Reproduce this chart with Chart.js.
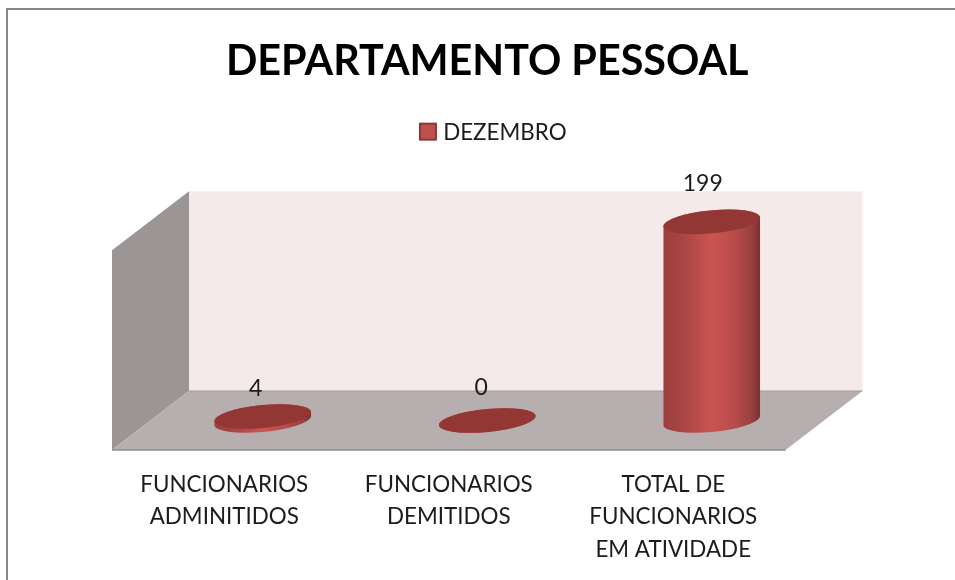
<!DOCTYPE html>
<html>
<head>
<meta charset="utf-8">
<style>
  html, body { margin: 0; padding: 0; background: #fff; }
  canvas { display: block; filter: blur(0.4px); }
</style>
<script src="https://cdn.jsdelivr.net/npm/chart.js@4"></script>
</head>
<body>
<canvas id="chart" width="955" height="580"></canvas>
<script>
const chartTitle = 'DEPARTAMENTO PESSOAL';
const seriesName = 'DEZEMBRO';
const categories = [
  ['FUNCIONARIOS', 'ADMINITIDOS'],
  ['FUNCIONARIOS', 'DEMITIDOS'],
  ['TOTAL DE', 'FUNCIONARIOS', 'EM ATIVIDADE']
];
const values = [4, 0, 199];

// depth of the fake 3d box, half goes behind and half in front of the scale
const depthX = 38.5;
const depthY = 29.5;
const tilt = -5.5 * Math.PI / 180;
const labelFont = '23px Lato';
const legendShift = 4;

function capPath(ctx, x, y, a, b) {
  ctx.beginPath();
  ctx.ellipse(x, y, a, b, tilt, 0, Math.PI * 2);
}

function drawCylinder(ctx, bar) {
  const a = bar.width / 2;
  const b = 11.5;
  const t0 = Math.atan(b * Math.tan(-tilt) / a);
  const grad = ctx.createLinearGradient(bar.x - a, 0, bar.x + a, 0);
  grad.addColorStop(0, '#9a3e3c');
  grad.addColorStop(0.25, '#ad4845');
  grad.addColorStop(0.5, '#cb5452');
  grad.addColorStop(0.75, '#b54c49');
  grad.addColorStop(0.92, '#95403d');
  grad.addColorStop(1, '#7a2f2d');
  ctx.beginPath();
  ctx.ellipse(bar.x, bar.base, a, b, tilt, t0, t0 + Math.PI);
  ctx.ellipse(bar.x, bar.y, a, b, tilt, t0 + Math.PI, t0 + Math.PI * 2);
  ctx.closePath();
  ctx.fillStyle = grad;
  ctx.fill();
  capPath(ctx, bar.x, bar.y, a, b);
  ctx.fillStyle = '#933735';
  ctx.fill();
}

const boxPlugin = {
  id: 'box3d',
  afterLayout(chart) {
    // legend sits right under the title, the wall starts much lower
    chart.legend.top -= 66.8;
    chart.legend.bottom -= 66.8;
    chart.legend.left += legendShift;
    chart.legend.right += legendShift;
  },
  beforeDraw(chart) {
    const { ctx, chartArea: area } = chart;
    const left = area.left - depthX;
    const right = area.right - depthX;
    const backLeft = area.left + depthX;
    const backRight = area.right + depthX;
    const floorFront = area.bottom + depthY;
    const floorBack = area.bottom - depthY;
    const top = area.top - depthY;
    ctx.save();
    // outer frame, only top and left show in the crop
    ctx.fillStyle = '#868686';
    ctx.fillRect(6, 8, 949, 2);
    ctx.fillRect(6, 8, 2, 572);
    // back wall
    ctx.fillStyle = '#f5e9e9';
    ctx.fillRect(backLeft, top, backRight - backLeft, floorBack - top);
    // left wall
    ctx.fillStyle = '#9b9595';
    ctx.beginPath();
    ctx.moveTo(left, area.top + depthY);
    ctx.lineTo(backLeft, top);
    ctx.lineTo(backLeft, floorBack);
    ctx.lineTo(left, floorFront);
    ctx.closePath();
    ctx.fill();
    // floor
    ctx.fillStyle = '#b7afaf';
    ctx.beginPath();
    ctx.moveTo(left, floorFront);
    ctx.lineTo(backLeft, floorBack);
    ctx.lineTo(backRight, floorBack);
    ctx.lineTo(right, floorFront);
    ctx.closePath();
    ctx.fill();
    ctx.strokeStyle = '#8f8b8b';
    ctx.lineWidth = 1.5;
    ctx.beginPath();
    ctx.moveTo(left, floorFront);
    ctx.lineTo(right, floorFront);
    ctx.stroke();
    ctx.strokeStyle = '#a29b9b';
    ctx.lineWidth = 1;
    ctx.beginPath();
    ctx.moveTo(backLeft, floorBack);
    ctx.lineTo(backRight, floorBack);
    ctx.stroke();
    ctx.restore();
  },
  beforeDatasetDraw() {
    // the plain bars are replaced by cylinders below
    return false;
  },
  afterDatasetsDraw(chart) {
    const { ctx } = chart;
    const bars = chart.getDatasetMeta(0).data;
    const labelLift = [28, 33, 38];
    const labelSide = [-7, -6, -9];
    ctx.save();
    bars.forEach((bar) => drawCylinder(ctx, bar));
    ctx.font = labelFont;
    ctx.fillStyle = '#1c1c1c';
    ctx.textAlign = 'center';
    ctx.textBaseline = 'middle';
    bars.forEach((bar, i) => {
      ctx.fillText(String(values[i]), bar.x + labelSide[i], bar.y - labelLift[i]);
    });
    ctx.restore();
  },
  afterDraw(chart) {
    // legend swatch hugs the text closer than Chart.js allows, so paint it here
    const { ctx, legend } = chart;
    const hit = legend.legendHitBoxes[0];
    const x = hit.left + legendShift;
    const y = legend.top + 20 + 2;
    ctx.save();
    ctx.fillStyle = '#c0504d';
    ctx.strokeStyle = '#8c3836';
    ctx.lineWidth = 2;
    ctx.fillRect(x, y, 16, 16);
    ctx.strokeRect(x, y, 16, 16);
    ctx.restore();
  }
};

new Chart(document.getElementById('chart'), {
  type: 'bar',
  data: {
    labels: categories,
    datasets: [{
      label: seriesName,
      data: values,
      backgroundColor: '#c0504d',
      borderColor: '#8c3836',
      borderWidth: 2,
      barPercentage: 1,
      categoryPercentage: 0.432
    }]
  },
  options: {
    responsive: false,
    animation: false,
    layout: { padding: { left: 150.5, right: 131, top: 0, bottom: 14.5 } },
    scales: {
      x: {
        grid: { display: false },
        border: { display: false },
        afterFit(scale) {
          scale.height = 145;
        },
        ticks: {
          autoSkip: false,
          maxRotation: 0,
          minRotation: 0,
          labelOffset: -depthX,
          padding: 40,
          color: '#1c1c1c',
          font: { family: 'Lato', size: 22.4, lineHeight: 1.45 }
        }
      },
      y: { display: false, min: 0, max: 200 }
    },
    plugins: {
      tooltip: { enabled: false },
      title: {
        display: true,
        text: chartTitle,
        color: '#000',
        font: { family: 'Lato', size: 41.3, weight: 'bold', lineHeight: 1.2 },
        padding: { top: 36.5, bottom: 82.4 }
      },
      legend: {
        display: true,
        position: 'top',
        labels: {
          color: '#1c1c1c',
          font: { family: 'Lato', size: 22.4 },
          boxWidth: 16,
          boxHeight: 16,
          padding: 20,
          generateLabels(chart) {
            const items = Chart.defaults.plugins.legend.labels.generateLabels(chart);
            items.forEach((item) => {
              item.fillStyle = 'rgba(0,0,0,0)';
              item.strokeStyle = 'rgba(0,0,0,0)';
            });
            return items;
          }
        }
      }
    }
  },
  plugins: [boxPlugin]
});
</script>
</body>
</html>
